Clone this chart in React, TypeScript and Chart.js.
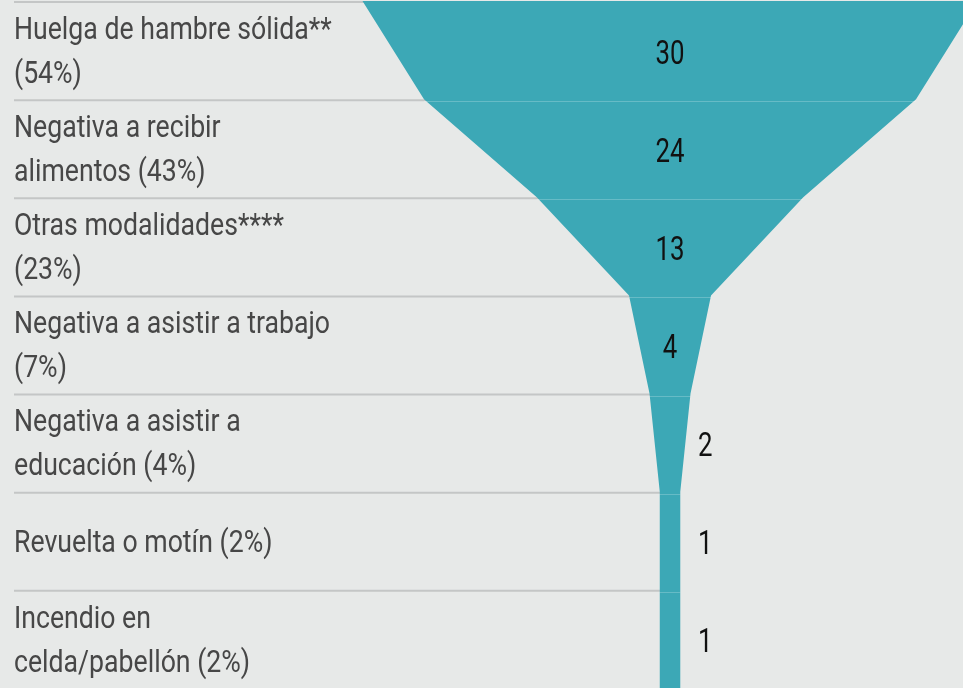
import React, { useEffect, useRef } from "react";
import { Chart, registerables } from "chart.js";

Chart.register(...registerables);

// ---- data ----
const categories: string[][] = [
  ["Huelga de hambre sólida**", "(54%)"],
  ["Negativa a recibir", "alimentos (43%)"],
  ["Otras modalidades****", "(23%)"],
  ["Negativa a asistir a trabajo", "(7%)"],
  ["Negativa a asistir a", "educación (4%)"],
  ["Revuelta o motín (2%)"],
  ["Incendio en", "celda/pabellón (2%)"],
];
const values: number[] = [30, 24, 13, 4, 2, 1, 1];

// ---- styles ----
const BG = "#e7e9e8";
const TEAL = "#3ca8b6";
const GRID = "#c4c6c6";
const LABEL_COLOR = "#474747";
const VALUE_COLOR = "#111111";
const FONT_FAMILY = 'Roboto, "Noto Sans", sans-serif';
const LABEL_SX = 0.86;
const VALUE_SX = 0.76;

// funnel edges: the width at boundary i equals values[i]; the final boundary keeps the last value
const edgeValues = [...values, values[values.length - 1]];
const leftEdge = edgeValues.map((v, i) => ({ x: -v / 2, y: i }));
const rightEdge = edgeValues.map((v, i) => ({ x: v / 2, y: i }));

function drawScaled(
  ctx: CanvasRenderingContext2D,
  text: string,
  x: number,
  y: number,
  align: CanvasTextAlign,
  sx: number
) {
  ctx.save();
  ctx.translate(x, y);
  ctx.scale(sx, 1);
  ctx.textAlign = align;
  ctx.fillText(text, 0, 0);
  ctx.restore();
}

const funnelDecor = {
  id: "funnelDecor",
  beforeDatasetsDraw(chart: any) {
    const { ctx, scales } = chart;
    const xs = scales.x;
    const ys = scales.y;
    const cx = xs.getPixelForValue(0);
    ctx.save();
    ctx.strokeStyle = GRID;
    ctx.lineWidth = 2;
    for (let i = 0; i < categories.length; i++) {
      const y = ys.getPixelForValue(i);
      ctx.beginPath();
      ctx.moveTo(14, y + 1);
      ctx.lineTo(cx, y + 1);
      ctx.stroke();
    }
    ctx.restore();
  },
  afterDatasetsDraw(chart: any) {
    const { ctx, scales } = chart;
    const xs = scales.x;
    const ys = scales.y;
    ctx.save();
    // faint segment separators inside the funnel
    ctx.strokeStyle = "rgba(255,255,255,0.22)";
    ctx.lineWidth = 1;
    for (let i = 1; i < categories.length; i++) {
      const y = Math.round(ys.getPixelForValue(i)) + 2.5;
      ctx.beginPath();
      ctx.moveTo(xs.getPixelForValue(-edgeValues[i] / 2), y);
      ctx.lineTo(xs.getPixelForValue(edgeValues[i] / 2), y);
      ctx.stroke();
    }
    // category labels
    ctx.fillStyle = LABEL_COLOR;
    ctx.font = `31px ${FONT_FAMILY}`;
    ctx.textBaseline = "middle";
    categories.forEach((lines, i) => {
      const yc = ys.getPixelForValue(i + 0.5) + 3;
      lines.forEach((ln, j) => {
        const y = yc + (j - (lines.length - 1) / 2) * 44;
        drawScaled(ctx, ln, 14, y, "left", LABEL_SX);
      });
    });
    // value labels
    ctx.fillStyle = VALUE_COLOR;
    ctx.font = `34px ${FONT_FAMILY}`;
    const cx = xs.getPixelForValue(0);
    values.forEach((v, i) => {
      const yc = ys.getPixelForValue(i + 0.5) + 5;
      if (v >= 3) {
        drawScaled(ctx, String(v), cx, yc, "center", VALUE_SX);
      } else {
        drawScaled(ctx, String(v), cx + 28, yc, "left", VALUE_SX);
      }
    });
    ctx.restore();
  },
};

export default function App() {
  const canvasRef = useRef<HTMLCanvasElement | null>(null);

  useEffect(() => {
    document.body.style.margin = "0";
    const canvas = canvasRef.current;
    if (!canvas) return;
    const chart = new Chart(canvas, {
      type: "line",
      data: {
        datasets: [
          {
            data: leftEdge,
            borderWidth: 0,
            borderColor: "transparent",
            pointRadius: 0,
            fill: false,
            tension: 0,
          },
          {
            data: rightEdge,
            borderWidth: 0,
            borderColor: "transparent",
            pointRadius: 0,
            fill: "-1",
            backgroundColor: TEAL,
            tension: 0,
          },
        ],
      } as any,
      options: {
        indexAxis: "y",
        animation: false,
        responsive: false,
        maintainAspectRatio: false,
        layout: { padding: { top: 1, left: 0, right: 0, bottom: 0 } },
        scales: {
          x: { type: "linear", display: false, min: -32.68, max: 14.29 },
          y: { type: "linear", display: false, reverse: true, min: 0, max: 7 },
        },
        plugins: {
          legend: { display: false },
          tooltip: { enabled: false },
        },
      } as any,
      plugins: [funnelDecor],
    });
    return () => chart.destroy();
  }, []);

  return (
    <div
      style={{
        position: "absolute",
        left: 0,
        top: 0,
        width: 963,
        height: 688,
        background: BG,
        overflow: "hidden",
      }}
    >
      <canvas ref={canvasRef} width={963} height={688} />
    </div>
  );
}
